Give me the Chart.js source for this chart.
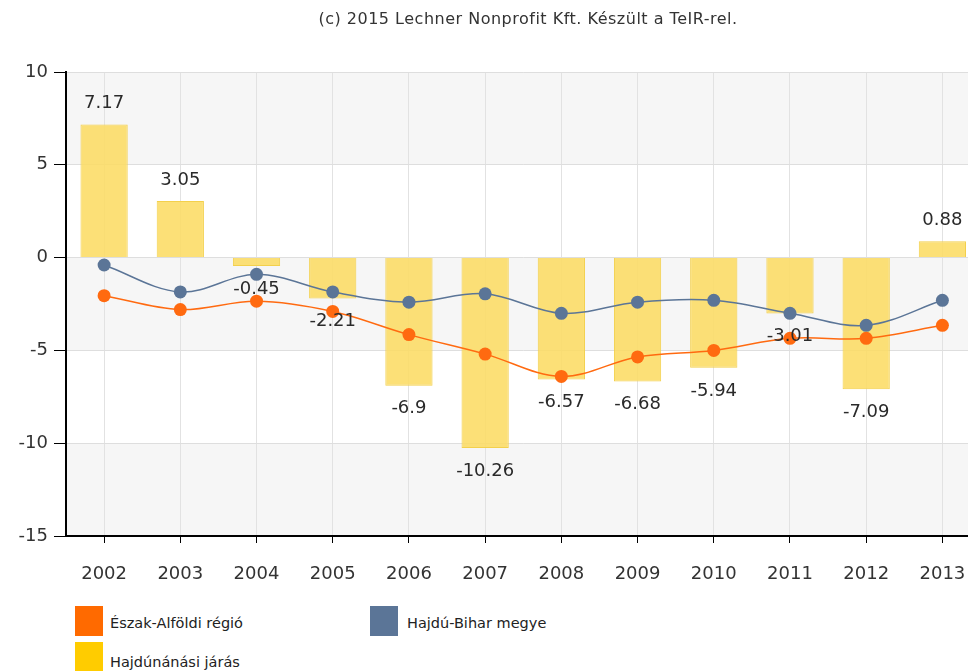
<!DOCTYPE html>
<html>
<head>
<meta charset="utf-8">
<script src="https://cdn.jsdelivr.net/npm/chart.js@4"></script>
<style>
  html, body { margin: 0; padding: 0; background: #fff; overflow: hidden; }
  body { width: 968px; height: 671px; position: relative; font-family: "DejaVu Sans", Verdana, sans-serif; }
  #wrap { position: absolute; left: 0; top: 0; width: 987px; height: 600px; }
  #title { position: absolute; left: 0; top: 9px; width: 1056px; text-align: center; font-size: 16px; letter-spacing: 0.5px; color: #333; }
  .sw { position: absolute; width: 28px; height: 30px; }
  .lt { position: absolute; font-size: 14.5px; color: #222; line-height: 18px; }
</style>
</head>
<body>
<div id="wrap"><canvas id="graphCanvas" width="987" height="600"></canvas></div>
<div id="title">(c) 2015 Lechner Nonprofit Kft. Készült a TeIR-rel.</div>

<div class="sw" style="left:75px;top:606px;background:#ff6a00"></div>
<div class="lt" style="left:110px;top:614px">Észak-Alföldi régió</div>
<div class="sw" style="left:370px;top:606px;background:#5b7597"></div>
<div class="lt" style="left:407px;top:614px">Hajdú-Bihar megye</div>
<div class="sw" style="left:75px;top:642px;background:#ffcc00"></div>
<div class="lt" style="left:110px;top:653px">Hajdúnánási járás</div>

<script>
// 데이터
var years = ['2002', '2003', '2004', '2005', '2006', '2007', '2008', '2009', '2010', '2011', '2012', '2013'];
var jarasValues = [7.17, 3.05, -0.45, -2.21, -6.9, -10.26, -6.57, -6.68, -5.94, -3.01, -7.09, 0.88];
var megyeValues = [-0.4, -1.85, -0.9, -1.85, -2.4, -1.95, -3.0, -2.4, -2.3, -3.0, -3.65, -2.3];
var regioValues = [-2.05, -2.8, -2.35, -2.9, -4.15, -5.2, -6.4, -5.35, -5.0, -4.35, -4.35, -3.65];
var yTicks = [-15, -10, -5, 0, 5, 10];

// 회색 띠 배경
var bandPlugin = {
    id: 'bands',
    beforeDraw: function(chart) {
        var ctx = chart.ctx;
        var area = chart.chartArea;
        var y = chart.scales.y;
        var bands = [[10, 5], [0, -5], [-10, -15]];
        ctx.save();
        ctx.fillStyle = '#f6f6f6';
        bands.forEach(function(b) {
            var top = y.getPixelForValue(b[0]);
            var bottom = y.getPixelForValue(b[1]);
            ctx.fillRect(area.left, top, area.right - area.left, bottom - top);
        });
        ctx.restore();
    }
};

// 막대 값 라벨
var labelPlugin = {
    id: 'barLabels',
    afterDatasetsDraw: function(chart) {
        var ctx = chart.ctx;
        var meta = chart.getDatasetMeta(2);
        ctx.save();
        ctx.font = '18px "DejaVu Sans"';
        ctx.fillStyle = '#2a2a2a';
        ctx.textAlign = 'center';
        ctx.textBaseline = 'middle';
        meta.data.forEach(function(bar, i) {
            var v = jarasValues[i];
            var yPos = v >= 0 ? bar.y - 21 : bar.y + 23;
            ctx.fillText(String(v), bar.x, yPos);
        });
        ctx.restore();
    }
};

var canvas = document.getElementById('graphCanvas');
var ctx = canvas.getContext('2d');

window.myChart = new Chart(ctx, {
    type: 'bar',
    data: {
        labels: years,
        datasets: [{
            type: 'line',
            label: 'Észak-Alföldi régió',
            data: regioValues,
            borderColor: '#ff6a10',
            backgroundColor: '#ff6a10',
            borderWidth: 1.5,
            pointRadius: 6.5,
            pointBorderWidth: 0,
            tension: 0.35,
            order: 1
        }, {
            type: 'line',
            label: 'Hajdú-Bihar megye',
            data: megyeValues,
            borderColor: '#5b7597',
            backgroundColor: '#5b7597',
            borderWidth: 1.5,
            pointRadius: 6.5,
            pointBorderWidth: 0,
            tension: 0.35,
            order: 2
        }, {
            label: 'Hajdúnánási járás',
            data: jarasValues,
            backgroundColor: 'rgba(252, 220, 100, 0.88)',
            borderColor: '#f3d04c',
            borderWidth: 1,
            barPercentage: 0.62,
            categoryPercentage: 1,
            order: 3
        }]
    },
    options: {
        responsive: false,
        animation: false,
        layout: { padding: { top: 72, right: 0, bottom: 0, left: 0 } },
        plugins: {
            legend: { display: false },
            tooltip: { enabled: false }
        },
        scales: {
            x: {
                grid: { color: '#e2e2e2', offset: false, tickLength: 7, tickColor: '#000' },
                border: { color: '#000', width: 2 },
                ticks: { color: '#333', font: { family: 'DejaVu Sans', size: 18 }, padding: 21 },
                afterFit: function(scale) { scale.height = 64; }
            },
            y: {
                min: -15,
                max: 10,
                afterBuildTicks: function(scale) {
                    scale.ticks = yTicks.map(function(v) { return { value: v }; });
                },
                grid: { color: '#dedede', tickLength: 12, tickColor: '#000' },
                border: { color: '#000', width: 2 },
                ticks: { color: '#333', font: { family: 'DejaVu Sans', size: 18 }, padding: 6 },
                afterFit: function(scale) { scale.width = 66; }
            }
        }
    },
    plugins: [bandPlugin, labelPlugin]
});
</script>
</body>
</html>
